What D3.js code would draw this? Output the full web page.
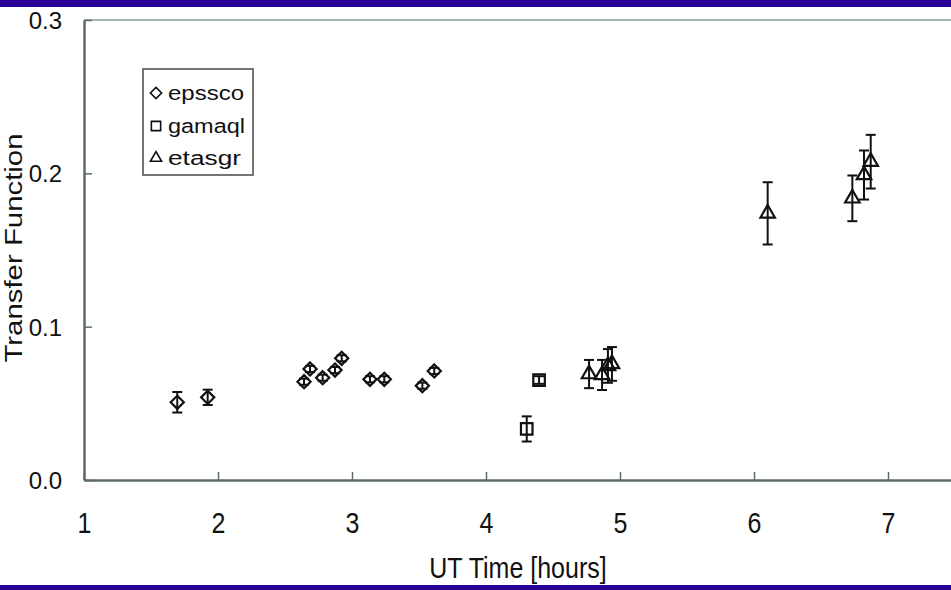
<!DOCTYPE html>
<html>
<head>
<meta charset="utf-8">
<script src="https://cdn.jsdelivr.net/npm/d3@7"></script>
<style>
  html, body { margin: 0; padding: 0; background: #ffffff; }
  svg { display: block; }
  text { font-family: "Liberation Sans", Arial, Helvetica, sans-serif; fill: #111; }
</style>
</head>
<body>
<svg id="chart" width="951" height="590"></svg>
<script>
// Tick values
const xTicks = [1, 2, 3, 4, 5, 6, 7];
const yTicks = [0.0, 0.1, 0.2, 0.3];

// Series: epssco (diamonds)
const epsscoTime  = [1.696, 1.923, 2.642, 2.687, 2.781, 2.873, 2.923, 3.134, 3.241, 3.525, 3.614];
const epsscoValue = [0.0507, 0.0539, 0.0641, 0.0724, 0.0667, 0.0717, 0.0794, 0.0657, 0.0657, 0.0615, 0.0711];
const epsscoError = [0.0067, 0.0050, 0.0020, 0.0020, 0.0020, 0.0020, 0.0020, 0.0020, 0.0020, 0.0020, 0.0020];

// Series: gamaql (squares)
const gamaqlTime  = [4.304, 4.396];
const gamaqlValue = [0.0333, 0.0652];
const gamaqlError = [0.0082, 0.0025];

// Series: etasgr (triangles)
const etasgrTime  = [4.769, 4.866, 4.910, 4.940, 6.102, 6.734, 6.821, 6.871];
const etasgrValue = [0.0691, 0.0685, 0.0744, 0.0757, 0.1739, 0.1837, 0.1989, 0.2076];
const etasgrError = [0.0092, 0.0098, 0.0110, 0.0110, 0.0203, 0.0149, 0.0160, 0.0175];

const seriesNames = ["epssco", "gamaql", "etasgr"];

const svg = d3.select("#chart");
const W = 951, H = 590;
const plotLeft = 84, plotTop = 20, plotBottom = 480;
const axisColor = "#5e6a6a";
const stretchY = 1.15;   // slightly tall lettering on the x axis

// Blue frame bands
svg.append("rect").attr("x", 0).attr("y", 0).attr("width", W).attr("height", 7).attr("fill", "#2a0096");
svg.append("rect").attr("x", 0).attr("y", 585).attr("width", W).attr("height", 5).attr("fill", "#2a0096");

const x = d3.scaleLinear().domain([1, 7.5]).range([plotLeft, plotLeft + 6.5 * 134]);
const y = d3.scaleLinear().domain([0, 0.3]).range([plotBottom, plotTop]);

// Top border
svg.append("line")
  .attr("x1", plotLeft).attr("x2", W).attr("y1", y(0.3)).attr("y2", y(0.3))
  .attr("stroke", "#a9b5b5").attr("stroke-width", 2);

// X axis
const xAxis = svg.append("g")
  .attr("transform", `translate(0,${plotBottom})`)
  .call(d3.axisBottom(x).tickValues(xTicks).tickFormat(d3.format("d"))
        .tickSizeInner(-8).tickSizeOuter(0));
xAxis.select(".domain").attr("stroke", axisColor).attr("stroke-width", 2.5);
xAxis.selectAll(".tick line").attr("stroke", axisColor).attr("stroke-width", 1.5);
xAxis.selectAll(".tick text")
  .attr("y", null).attr("dy", null)
  .attr("transform", `translate(0,53) scale(1,${stretchY})`)
  .attr("font-size", 25).attr("fill", "#111")
  .style("font-family", "'Liberation Sans', Arial, sans-serif");

// Y axis
const yAxis = svg.append("g")
  .attr("transform", `translate(${plotLeft},0)`)
  .call(d3.axisLeft(y).tickValues(yTicks).tickFormat(d3.format(".1f"))
        .tickSizeInner(-8).tickSizeOuter(0).tickPadding(22));
yAxis.select(".domain").attr("stroke", axisColor).attr("stroke-width", 2.5);
yAxis.selectAll(".tick line").attr("stroke", axisColor).attr("stroke-width", 1.5);
yAxis.selectAll(".tick text")
  .attr("dy", null).attr("y", 8.5)
  .attr("font-size", 24).attr("fill", "#111")
  .style("font-family", "'Liberation Sans', Arial, sans-serif");

// Axis titles
svg.append("text")
  .attr("transform", `translate(518,578) scale(1,${stretchY})`)
  .attr("text-anchor", "middle").attr("font-size", 25)
  .text("UT Time [hours]");
svg.append("text")
  .attr("transform", `translate(22,${(plotTop + plotBottom) / 2 - 2}) rotate(-90)`)
  .attr("text-anchor", "middle").attr("font-size", 23)
  .attr("textLength", 229).attr("lengthAdjust", "spacingAndGlyphs")
  .text("Transfer Function");

// Marker shapes
const shapes = {
  epssco: d3.symbol().type(d3.symbolDiamond2).size(110),
  gamaql: d3.symbol().type(d3.symbolSquare2).size(170),
  etasgr: d3.symbol().type(d3.symbolTriangle2).size(150)
};

function drawSeries(name, times, values, errors) {
  const pts = times.map((t, i) => ({ t, v: values[i], e: errors[i] }));
  const g = svg.append("g").attr("class", "series-" + name);
  g.selectAll("path.marker").data(pts).join("path")
    .attr("class", "marker")
    .attr("transform", d => `translate(${x(d.t)},${y(d.v)})`)
    .attr("d", shapes[name]())
    .attr("fill", "none").attr("stroke", "#111").attr("stroke-width", 2.2);
  const eb = g.selectAll("g.err").data(pts).join("g").attr("class", "err")
    .attr("stroke", "#111").attr("stroke-width", 2);
  eb.append("line")
    .attr("x1", d => x(d.t)).attr("x2", d => x(d.t))
    .attr("y1", d => y(d.v - d.e)).attr("y2", d => y(d.v + d.e));
  eb.append("line")
    .attr("x1", d => x(d.t) - 5).attr("x2", d => x(d.t) + 5)
    .attr("y1", d => y(d.v - d.e)).attr("y2", d => y(d.v - d.e));
  eb.append("line")
    .attr("x1", d => x(d.t) - 5).attr("x2", d => x(d.t) + 5)
    .attr("y1", d => y(d.v + d.e)).attr("y2", d => y(d.v + d.e));
}

drawSeries("epssco", epsscoTime, epsscoValue, epsscoError);
drawSeries("gamaql", gamaqlTime, gamaqlValue, gamaqlError);
drawSeries("etasgr", etasgrTime, etasgrValue, etasgrError);

// Legend
const legend = svg.append("g");
legend.append("rect")
  .attr("x", 143).attr("y", 69).attr("width", 110).attr("height", 106)
  .attr("fill", "#fff").attr("stroke", "#666").attr("stroke-width", 1.8);
const legendY = [93, 126, 158];
const legendShapes = [d3.symbolDiamond2, d3.symbolSquare2, d3.symbolTriangle2];
const legendSizes = [80, 110, 90];
const legendWidths = [76, 77, 73];
seriesNames.forEach((name, i) => {
  legend.append("path")
    .attr("transform", `translate(156,${legendY[i]})`)
    .attr("d", d3.symbol().type(legendShapes[i]).size(legendSizes[i])())
    .attr("fill", "none").attr("stroke", "#111").attr("stroke-width", 1.6);
  legend.append("text")
    .attr("x", 168).attr("y", legendY[i] + 6.5)
    .attr("font-size", 20)
    .attr("textLength", legendWidths[i]).attr("lengthAdjust", "spacingAndGlyphs")
    .text(name);
});
</script>
</body>
</html>
